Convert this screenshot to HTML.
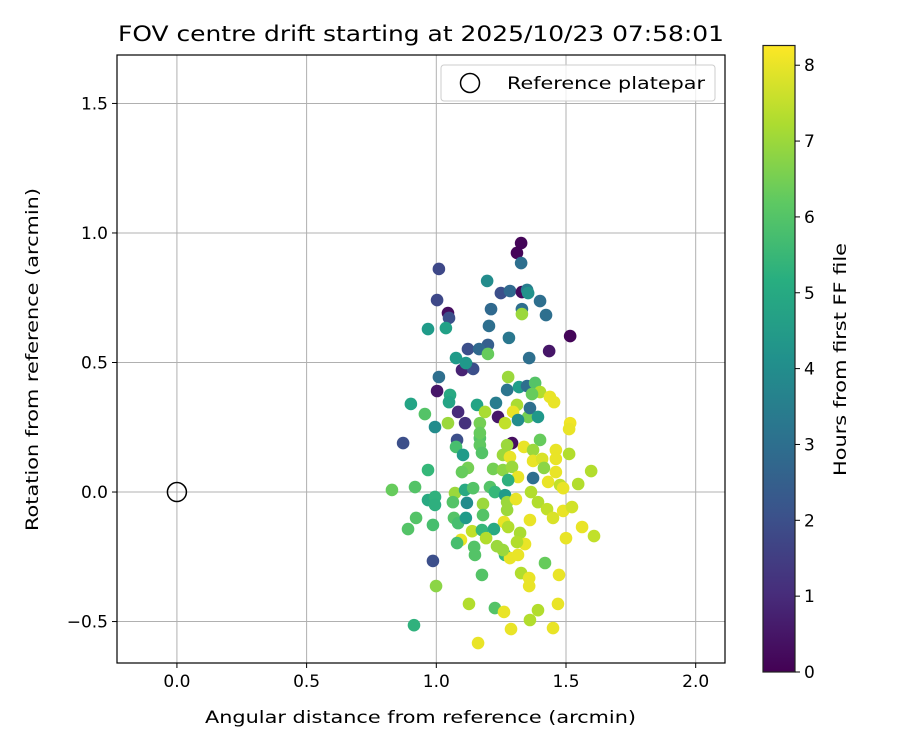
<!DOCTYPE html>
<html><head><meta charset="utf-8"><style>
html,body{margin:0;padding:0;background:#fff;}
svg{display:block;font-family:"DejaVu Sans","Liberation Sans",sans-serif;}
</style></head><body>
<svg id="chart" width="900" height="750" viewBox="0 0 900 750">
<defs><linearGradient id="vir" x1="0" y1="1" x2="0" y2="0">
<stop offset="0" stop-color="#440154"/><stop offset="0.125" stop-color="#472d7b"/><stop offset="0.25" stop-color="#3b528b"/><stop offset="0.375" stop-color="#2c728e"/><stop offset="0.5" stop-color="#21918c"/><stop offset="0.625" stop-color="#28ae80"/><stop offset="0.75" stop-color="#5ec962"/><stop offset="0.875" stop-color="#addc30"/><stop offset="1" stop-color="#fde725"/></linearGradient>
<clipPath id="pc"><rect x="117" y="55" width="608" height="608"/></clipPath></defs>
<g id="grid"></g>
<g id="pts" clip-path="url(#pc)"></g>
<rect x="117" y="55" width="608" height="608" fill="none" stroke="#000" stroke-width="1.2"/>
<g id="ticks"></g>
<text x="118" y="41" font-size="21" textLength="606" lengthAdjust="spacingAndGlyphs">FOV centre drift starting at 2025/10/23 07:58:01</text>
<text x="205" y="723" font-size="17" textLength="431" lengthAdjust="spacingAndGlyphs">Angular distance from reference (arcmin)</text>
<text transform="translate(38,531) rotate(-90)" font-size="17" textLength="343" lengthAdjust="spacingAndGlyphs">Rotation from reference (arcmin)</text>
<g>
<rect x="441" y="65" width="274" height="36" rx="3" fill="#fff" fill-opacity="0.8" stroke="#ccc"/>
<circle cx="470" cy="83" r="9.5" fill="none" stroke="#000" stroke-width="1.5"/>
<text x="507" y="89" font-size="17" textLength="198" lengthAdjust="spacingAndGlyphs">Reference platepar</text>
</g>
<rect x="763" y="45.5" width="32" height="626.5" fill="url(#vir)" stroke="#222" stroke-width="1.2"/>
<g id="cticks"></g>
<text transform="translate(846,476) rotate(-90)" font-size="17" textLength="233" lengthAdjust="spacingAndGlyphs">Hours from first FF file</text>
</svg>
<script>
const xTicks=[0.0,0.5,1.0,1.5,2.0];
const xTickLabels=["0.0","0.5","1.0","1.5","2.0"];
const yTicks=[-0.5,0.0,0.5,1.0,1.5];
const yTickLabels=["\u22120.5","0.0","0.5","1.0","1.5"];
const cTicks=[0,1,2,3,4,5,6,7,8];
const refPoint=[0,0];
const xs=[1.327,1.311,1.327,1.010,1.196,1.249,1.284,1.330,1.350,1.354,1.400,1.003,1.211,1.330,1.330,1.423,1.045,1.049,0.968,1.037,1.203,1.280,1.516,1.199,1.122,1.165,1.199,1.435,1.076,1.358,1.118,1.099,1.142,1.114,1.010,1.277,1.003,1.273,1.319,1.350,1.381,1.400,1.369,1.438,1.454,0.902,0.956,1.053,1.049,1.157,1.230,1.311,1.296,1.084,1.188,1.238,1.354,1.361,1.392,1.516,1.512,1.045,1.111,1.168,1.265,1.315,0.995,
0.872,1.080,1.076,1.103,1.168,1.168,1.176,1.168,1.292,1.273,1.338,1.257,1.284,1.400,1.373,1.461,1.512,1.373,1.408,1.461,1.415,1.461,0.968,1.122,1.099,1.219,1.257,1.292,1.315,1.277,1.373,1.431,1.477,1.489,1.547,1.597,0.829,0.918,1.072,1.111,1.142,1.207,1.226,1.265,1.365,0.968,0.995,1.064,1.118,0.995,1.180,1.273,1.307,1.392,1.427,1.489,1.523,1.180,1.273,1.361,1.450,0.922,0.891,0.987,1.068,1.084,1.114,1.261,1.277,1.138,1.176,1.222,1.323,1.562,1.608,1.500,1.095,1.080,1.192,1.234,1.342,1.311,1.146,1.149,1.265,1.284,1.315,1.257,0.987,1.419,1.176,1.327,1.473,1.358,1.358,0.999,1.126,1.226,1.261,1.392,1.469,1.361,0.914,1.288,1.450,1.161];
const ys=[0.961,0.923,0.884,0.861,0.815,0.768,0.776,0.772,0.780,0.768,0.737,0.741,0.706,0.706,0.687,0.683,0.691,0.672,0.629,0.633,0.641,0.595,0.602,0.568,0.552,0.552,0.533,0.544,0.517,0.517,0.490,0.471,0.475,0.498,0.444,0.444,0.390,0.394,0.405,0.409,0.421,0.386,0.378,0.367,0.347,0.340,0.301,0.375,0.347,0.336,0.344,0.336,0.309,0.309,0.309,0.290,0.290,0.324,0.290,0.266,0.243,0.266,0.266,0.266,0.266,0.278,0.251,
0.189,0.201,0.174,0.143,0.208,0.181,0.151,0.228,0.189,0.181,0.174,0.143,0.135,0.201,0.162,0.162,0.147,0.120,0.128,0.128,0.093,0.077,0.085,0.093,0.077,0.089,0.085,0.097,0.058,0.046,0.054,0.039,0.027,0.015,0.031,0.081,0.008,0.019,-0.004,0.008,0.015,0.019,0.000,-0.012,0.000,-0.031,-0.019,-0.039,-0.042,-0.050,-0.046,-0.039,-0.027,-0.039,-0.066,-0.073,-0.058,-0.089,-0.069,-0.108,-0.100,-0.100,-0.143,-0.127,-0.100,-0.120,-0.100,-0.116,-0.135,-0.151,-0.147,-0.143,-0.158,-0.135,-0.170,-0.178,-0.185,-0.197,-0.178,-0.209,-0.201,-0.193,-0.212,-0.243,-0.243,-0.255,-0.243,-0.224,-0.266,-0.274,-0.320,-0.313,-0.320,-0.332,-0.363,-0.363,-0.432,-0.448,-0.463,-0.456,-0.432,-0.494,-0.514,-0.529,-0.525,-0.583];
const hours=[0.1,0.1,3.0,1.8,4.0,2.0,2.8,0.2,3.5,4.2,3.0,1.8,2.8,3.0,7.0,3.0,0.3,2.0,4.5,4.7,3.0,3.3,0.1,2.5,2.0,2.8,6.3,0.5,4.5,3.0,4.4,0.8,2.0,4.4,3.0,7.0,0.5,3.2,4.6,3.0,6.0,7.3,6.3,8.0,8.0,4.8,6.0,5.0,4.8,4.8,3.5,7.2,8.0,1.0,7.2,0.5,6.5,3.0,4.4,8.1,8.0,7.0,1.2,6.5,7.5,4.0,4.0,
2.0,2.0,5.8,4.5,6.0,6.2,6.0,6.3,0.3,7.0,8.0,7.0,8.0,6.3,7.0,8.0,7.3,8.0,7.8,8.0,6.8,8.0,5.5,6.5,6.3,6.5,6.8,7.0,8.0,5.2,3.0,8.0,7.5,8.0,7.3,7.3,6.3,6.0,7.0,5.0,6.0,6.0,5.5,4.5,7.3,5.0,5.3,6.0,4.0,5.2,7.0,7.0,8.0,7.3,7.5,8.0,7.7,6.0,7.0,8.0,7.8,6.0,6.0,5.8,6.0,5.8,4.5,8.0,7.3,7.5,5.5,5.0,7.2,8.0,7.5,8.0,8.0,5.8,7.3,7.0,8.0,7.3,6.0,6.0,5.5,8.0,8.0,7.0,2.0,6.3,6.0,7.3,8.0,8.0,8.0,6.8,7.3,6.0,8.0,7.3,8.0,7.3,5.3,8.0,8.0,8.0];

const X0=-0.231,X1=2.113,Y0=-0.66,Y1=1.687,C0=0,C1=8.26;
const L=117,R=725,T=55,B=663,CT=45.5,CB=672;
const sx=v=>L+(v-X0)/(X1-X0)*(R-L);
const sy=v=>B-(v-Y0)/(Y1-Y0)*(B-T);
const sc=v=>CB-(v-C0)/(C1-C0)*(CB-CT);
const vir=["#440154","#482878","#3e4989","#31688e","#26828e","#1f9e89","#35b779","#6ece58","#b5de2b","#fde725"];
function hx(c){return [1,3,5].map(i=>parseInt(c.substr(i,2),16));}
function cmap(h){let t=Math.max(0,Math.min(1,h/C1))*(vir.length-1);let i=Math.min(vir.length-2,Math.floor(t)),f=t-i;
const a=hx(vir[i]),b=hx(vir[i+1]);return "rgb("+a.map((v,k)=>Math.round(v+(b[k]-v)*f)).join(",")+")";}
const NS="http://www.w3.org/2000/svg";
function mk(tag,attrs,parent){const e=document.createElementNS(NS,tag);for(const k in attrs)e.setAttribute(k,attrs[k]);parent.appendChild(e);return e;}
const grid=document.getElementById('grid'),ticks=document.getElementById('ticks'),pts=document.getElementById('pts'),ct=document.getElementById('cticks');
xTicks.forEach((v,i)=>{
 const g=mk('line',{x1:sx(v),x2:sx(v),y1:T,y2:B,stroke:'#b0b0b0','stroke-width':1},grid);
 
 
 const t=mk('line',{x1:sx(v),x2:sx(v),y1:B,y2:B+5,stroke:'#000'},ticks);
 
 
 const l=mk('text',{x:sx(v),y:B+24,'font-size':17,'text-anchor':'middle'},ticks);l.textContent=xTickLabels[i];
 
 
});
yTicks.forEach((v,i)=>{
 const g=mk('line',{x1:L,x2:R,y1:sy(v),y2:sy(v),stroke:'#b0b0b0','stroke-width':1},grid);
 
 
 const t=mk('line',{x1:L-5,x2:L,y1:sy(v),y2:sy(v),stroke:'#000'},ticks);
 
 
 const l=mk('text',{x:L-9,y:sy(v)+6,'font-size':17,'text-anchor':'end'},ticks);l.textContent=yTickLabels[i];
 
 
});
xs.forEach((x,i)=>{
 const c=mk('circle',{cx:sx(x),cy:sy(ys[i]),r:6.3,fill:cmap(hours[i])},pts);
 
 
});
const ref=mk('circle',{cx:sx(refPoint[0]),cy:sy(refPoint[1]),r:9.5,fill:'none',stroke:'#000','stroke-width':1.5},pts);


cTicks.forEach(v=>{
 const t=mk('line',{x1:795,x2:800,y1:sc(v),y2:sc(v),stroke:'#000'},ct);
 
 
 const l=mk('text',{x:804,y:sc(v)+6,'font-size':17},ct);l.textContent=v;
 
 
});
</script>
</body></html>
